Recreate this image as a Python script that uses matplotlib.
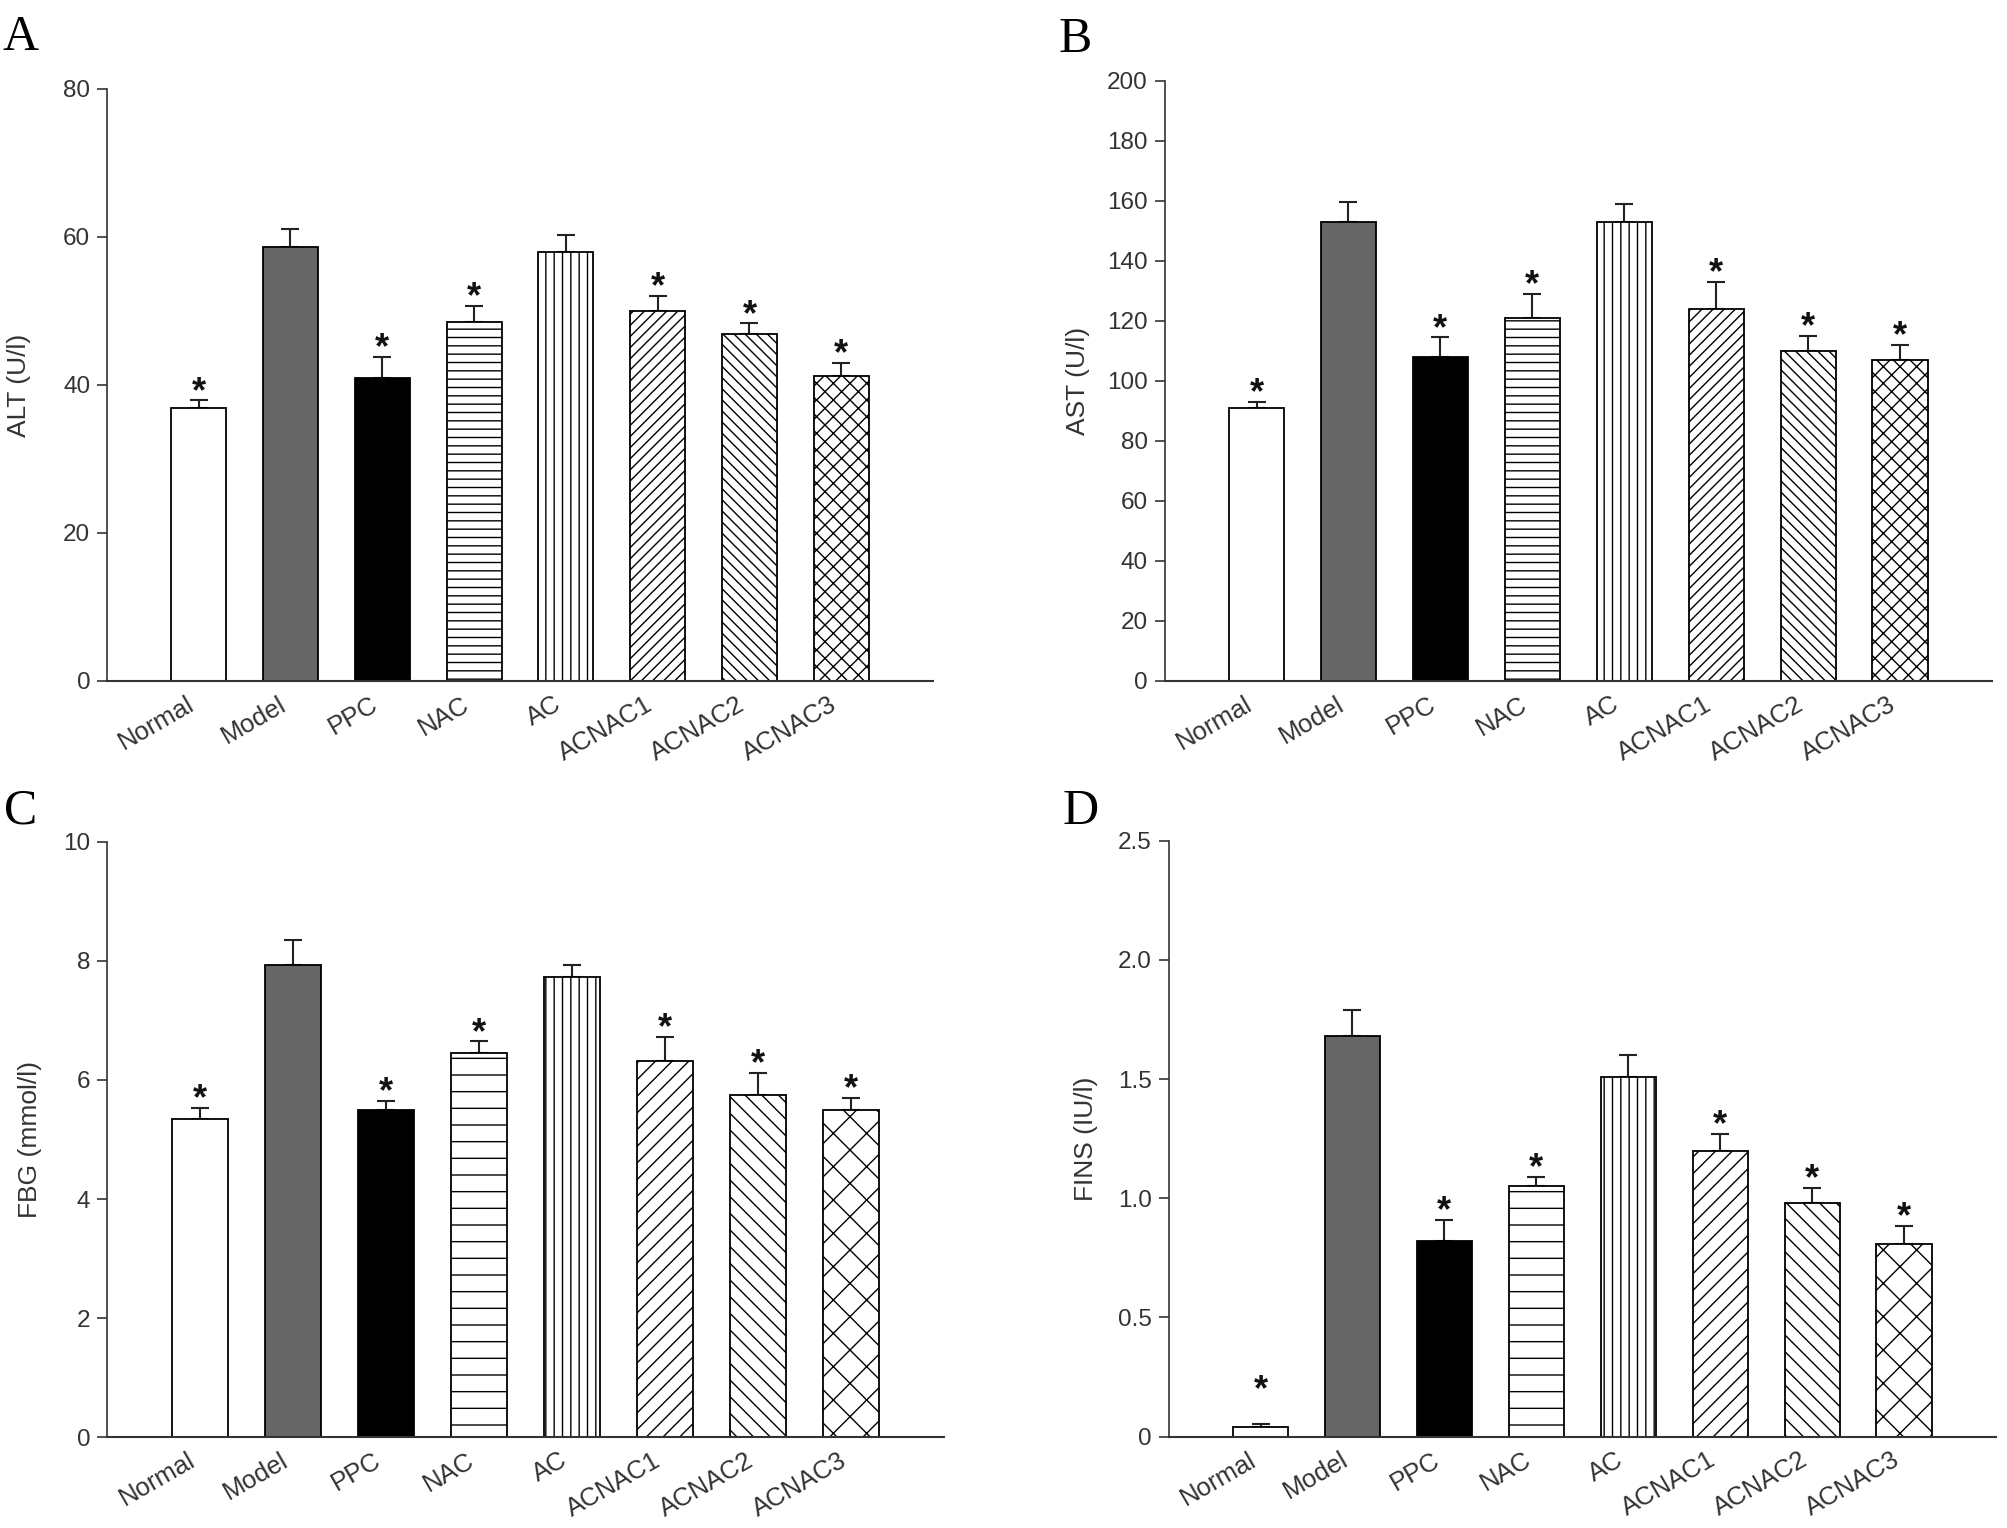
import numpy as np
from matplotlib import pyplot as plt
from matplotlib.transforms import ScaledTranslation

plt.rcParams['font.family'] = ['Liberation Sans', 'DejaVu Sans']
plt.rcParams['hatch.linewidth'] = 1.0

groups = ["Normal", "Model", "PPC", "NAC", "AC", "ACNAC1", "ACNAC2", "ACNAC3"]
stars = [1, 0, 1, 1, 0, 1, 1, 1]

alt_mean = [36.9, 58.7, 41.0, 48.5, 58.0, 50.0, 46.9, 41.2]
alt_err = [1.0, 2.4, 2.8, 2.2, 2.3, 2.0, 1.4, 1.8]

ast_mean = [91, 153, 108, 121, 153, 124, 110, 107]
ast_err = [2.0, 6.5, 6.5, 8.0, 6.0, 9.0, 5.0, 5.0]

fbg_mean = [5.35, 7.93, 5.50, 6.45, 7.73, 6.32, 5.75, 5.50]
fbg_err = [0.18, 0.43, 0.15, 0.20, 0.20, 0.40, 0.37, 0.20]

fins_mean = [0.04, 1.68, 0.82, 1.05, 1.51, 1.20, 0.98, 0.81]
fins_err = [0.015, 0.11, 0.09, 0.04, 0.09, 0.07, 0.065, 0.075]

fills = ['white', '#666666', 'black', 'white', 'white', 'white', 'white', 'white']

panels = [
    # letter, mean, err, ylabel, ymax, ystep, axes rect, hatches, star floor
    ("A", alt_mean, alt_err, "ALT (U/l)", 80, 20, [0.0532, 0.5544, 0.4115, 0.3874],
     [None, None, None, '--', '||', '///', '\\\\\\', 'xx'], 0),
    ("B", ast_mean, ast_err, "AST (U/l)", 200, 20, [0.580, 0.5544, 0.412, 0.3926],
     [None, None, None, '--', '||', '///', '\\\\\\', 'xx'], 0),
    ("C", fbg_mean, fbg_err, "FBG (mmol/l)", 10, 2, [0.0532, 0.0595, 0.417, 0.3895],
     [None, None, None, '-', '||', '//', '\\\\', 'x'], 0),
    ("D", fins_mean, fins_err, "FINS (IU/l)", 2.5, 0.5, [0.582, 0.0598, 0.412, 0.390],
     [None, None, None, '-', '||', '//', '\\\\', 'x'], 0.16),
]

letter_pos = {"A": (0.001, 0.967), "B": (0.527, 0.966), "C": (0.002, 0.461), "D": (0.529, 0.461)}
ylabel_x = {"A": -0.092, "B": -0.090, "C": -0.077, "D": -0.086}

fig = plt.figure(figsize=(20.08, 15.28), dpi=100)
x = np.arange(len(groups))
grey = '#333333'
# nudge the rotated category labels to the left, like the original
shift = ScaledTranslation(-9 / 72, 0, fig.dpi_scale_trans)

for letter, mean, err, ylab, ymax, ystep, rect, hatches, floor in panels:
    ax = fig.add_axes(rect)
    ax.errorbar(x, mean, yerr=[np.zeros(len(err)), err], fmt='none',
                ecolor='#222222', elinewidth=1.5, capsize=6.5, capthick=1.5, zorder=1)
    for i in range(len(groups)):
        ax.bar(x[i], mean[i], width=0.6, color=fills[i], edgecolor='black',
               linewidth=1.3, hatch=hatches[i], zorder=2)
        if stars[i]:
            y = max(mean[i] + err[i], floor)
            ax.annotate('*', xy=(x[i], y), xytext=(0, -1), textcoords='offset points',
                        ha='center', va='baseline', fontsize=26, fontweight='bold',
                        color='#111111')
    ax.set_xlim(-1, 8)
    ax.set_ylim(0, ymax)
    ax.set_yticks(np.arange(0, ymax + ystep / 2, ystep))
    if ystep < 1:
        ax.set_yticklabels(['0'] + ['%.1f' % v for v in np.arange(ystep, ymax + ystep / 2, ystep)])
    ax.set_xticks(x)
    ax.set_xticklabels(groups, rotation=30, ha='right', va='top', rotation_mode='anchor')
    ax.tick_params(axis='x', length=0, pad=8, labelsize=18.5, labelcolor=grey)
    ax.tick_params(axis='y', length=7, width=1.2, color=grey, pad=5, labelsize=17.5, labelcolor=grey)
    # after tick_params, otherwise the pad resets the label transform
    for lab in ax.get_xticklabels():
        lab.set_transform(lab.get_transform() + shift)
    for s in ['top', 'right']:
        ax.spines[s].set_visible(False)
    ax.spines['left'].set_color(grey)
    ax.spines['bottom'].set_color(grey)
    ax.spines['left'].set_linewidth(1.2)
    ax.spines['bottom'].set_linewidth(1.5)
    ax.set_ylabel(ylab, fontsize=19, color=grey)
    ax.yaxis.set_label_coords(ylabel_x[letter], 0.5)
    fig.text(letter_pos[letter][0], letter_pos[letter][1], letter,
             family='Liberation Serif', fontsize=36, va='baseline', ha='left')

fig.savefig('out.png', dpi=100)
